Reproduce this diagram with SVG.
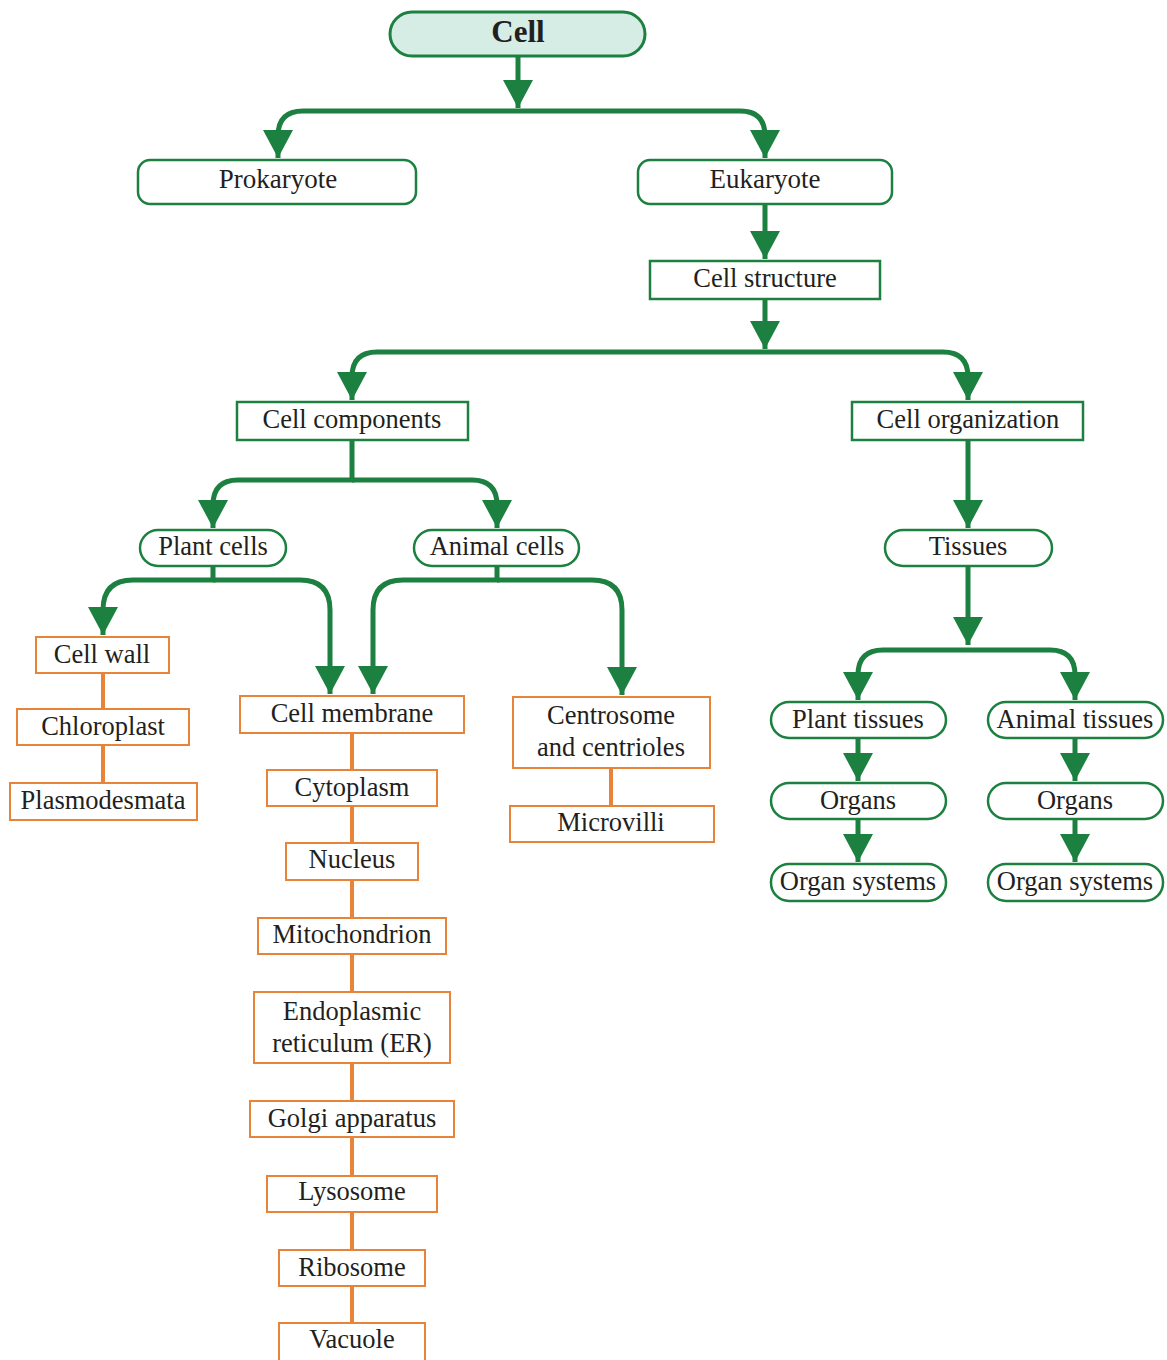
<svg xmlns="http://www.w3.org/2000/svg" width="1167" height="1360" viewBox="0 0 1167 1360">
<style>
.g{fill:#fff;stroke:#1c8040;stroke-width:2.5}
.o{fill:#fff;stroke:#e8843a;stroke-width:2}
.t{font-family:"Liberation Serif","Times New Roman",serif;font-size:26.5px;fill:#231f20;text-anchor:middle}
.c{fill:none;stroke:#1c8040;stroke-width:5}
.oc{fill:none;stroke:#e8843a;stroke-width:4}
</style>
<defs>
<marker id="ah" viewBox="0 0 28 30" markerWidth="28" markerHeight="30" markerUnits="userSpaceOnUse" refX="28" refY="15" orient="auto">
<path d="M0,0 L28,15 L0,30 Z" fill="#1c8040"/>
</marker>
</defs>
<rect width="1167" height="1360" fill="#fff"/>
<g id="connectors">
<path class="c" marker-end="url(#ah)" d="M518,56 V108"/>
<path class="c" marker-end="url(#ah)" d="M518,111 H303 Q278,111 278,136 V158"/>
<path class="c" marker-end="url(#ah)" d="M518,111 H740 Q765,111 765,136 V158"/>
<path class="c" marker-end="url(#ah)" d="M765,204 V259"/>
<path class="c" marker-end="url(#ah)" d="M765,299 V349"/>
<path class="c" marker-end="url(#ah)" d="M765,352 H377 Q352,352 352,377 V400"/>
<path class="c" marker-end="url(#ah)" d="M765,352 H943 Q968,352 968,377 V400"/>
<path class="c" marker-end="url(#ah)" d="M352,440 V480 H238 Q213,480 213,505 V528"/>
<path class="c" marker-end="url(#ah)" d="M352,480 H472 Q497,480 497,505 V528"/>
<path class="c" marker-end="url(#ah)" d="M968,440 V528"/>
<path class="c" marker-end="url(#ah)" d="M968,566 V645"/>
<path class="c" marker-end="url(#ah)" d="M968,650 H883 Q858,650 858,675 V700"/>
<path class="c" marker-end="url(#ah)" d="M968,650 H1050 Q1075,650 1075,675 V700"/>
<path class="c" marker-end="url(#ah)" d="M858,738 V781"/>
<path class="c" marker-end="url(#ah)" d="M858,819 V862"/>
<path class="c" marker-end="url(#ah)" d="M1075,738 V781"/>
<path class="c" marker-end="url(#ah)" d="M1075,819 V862"/>
<path class="c" marker-end="url(#ah)" d="M213,566 V580 H133 Q103,580 103,610 V635"/>
<path class="c" marker-end="url(#ah)" d="M213,580 H300 Q330,580 330,610 V694"/>
<path class="c" marker-end="url(#ah)" d="M497,566 V580 H403 Q373,580 373,610 V694"/>
<path class="c" marker-end="url(#ah)" d="M497,580 H592 Q622,580 622,610 V695"/>
<path class="oc" d="M103,673 V783"/>
<path class="oc" d="M352,733 V1323"/>
<path class="oc" d="M611,768 V806"/>
</g>
<g id="cell"><rect x="390" y="12" width="255" height="44" rx="22" fill="#d6ede5" stroke="#1c8040" stroke-width="3"/><text class="t" x="518" y="42" style="font-weight:bold;font-size:31px">Cell</text></g>
<g id="prokaryote"><rect class="g" x="138" y="160" width="278" height="44" rx="12"/><text class="t" x="278" y="188" style="font-size:27px">Prokaryote</text></g>
<g id="eukaryote"><rect class="g" x="638" y="160" width="254" height="44" rx="12"/><text class="t" x="765" y="188" style="font-size:27px">Eukaryote</text></g>
<g id="cell-structure"><rect class="g" x="650" y="261" width="230" height="38"/><text class="t" x="765" y="287">Cell structure</text></g>
<g id="cell-components"><rect class="g" x="237" y="402" width="231" height="38"/><text class="t" x="352" y="428">Cell components</text></g>
<g id="cell-organization"><rect class="g" x="852" y="402" width="231" height="38"/><text class="t" x="968" y="428">Cell organization</text></g>
<g id="plant-cells"><rect class="g" x="140" y="530" width="146" height="36" rx="18"/><text class="t" x="213" y="555">Plant cells</text></g>
<g id="animal-cells"><rect class="g" x="414" y="530" width="165" height="36" rx="18"/><text class="t" x="497" y="555">Animal cells</text></g>
<g id="tissues"><rect class="g" x="885" y="530" width="167" height="36" rx="18"/><text class="t" x="968" y="555">Tissues</text></g>
<g id="plant-tissues"><rect class="g" x="771" y="702" width="175" height="36" rx="18"/><text class="t" x="858" y="728">Plant tissues</text></g>
<g id="animal-tissues"><rect class="g" x="988" y="702" width="175" height="36" rx="18"/><text class="t" x="1075" y="728">Animal tissues</text></g>
<g id="organs-plant"><rect class="g" x="771" y="783" width="175" height="36" rx="18"/><text class="t" x="858" y="809">Organs</text></g>
<g id="organs-animal"><rect class="g" x="988" y="783" width="175" height="36" rx="18"/><text class="t" x="1075" y="809">Organs</text></g>
<g id="organ-systems-plant"><rect class="g" x="771" y="864" width="175" height="37" rx="18"/><text class="t" x="858" y="890">Organ systems</text></g>
<g id="organ-systems-animal"><rect class="g" x="988" y="864" width="175" height="37" rx="18"/><text class="t" x="1075" y="890">Organ systems</text></g>
<g id="cell-wall"><rect class="o" x="36" y="637" width="133" height="36"/><text class="t" x="102" y="663">Cell wall</text></g>
<g id="chloroplast"><rect class="o" x="17" y="709" width="172" height="36"/><text class="t" x="103" y="735">Chloroplast</text></g>
<g id="plasmodesmata"><rect class="o" x="10" y="783" width="187" height="37"/><text class="t" x="103" y="809">Plasmodesmata</text></g>
<g id="cell-membrane"><rect class="o" x="240" y="696" width="224" height="37"/><text class="t" x="352" y="722">Cell membrane</text></g>
<g id="cytoplasm"><rect class="o" x="267" y="770" width="170" height="36"/><text class="t" x="352" y="796">Cytoplasm</text></g>
<g id="nucleus"><rect class="o" x="286" y="843" width="132" height="37"/><text class="t" x="352" y="868">Nucleus</text></g>
<g id="mitochondrion"><rect class="o" x="258" y="918" width="188" height="36"/><text class="t" x="352" y="943">Mitochondrion</text></g>
<g id="er"><rect class="o" x="254" y="992" width="196" height="71"/><text class="t" x="352" y="1020">Endoplasmic</text><text class="t" x="352" y="1052">reticulum (ER)</text></g>
<g id="golgi"><rect class="o" x="250" y="1101" width="204" height="36"/><text class="t" x="352" y="1127">Golgi apparatus</text></g>
<g id="lysosome"><rect class="o" x="267" y="1176" width="170" height="36"/><text class="t" x="352" y="1200">Lysosome</text></g>
<g id="ribosome"><rect class="o" x="279" y="1250" width="146" height="36"/><text class="t" x="352" y="1276">Ribosome</text></g>
<g id="vacuole"><rect class="o" x="279" y="1323" width="146" height="40"/><text class="t" x="352" y="1348">Vacuole</text></g>
<g id="centrosome"><rect class="o" x="513" y="697" width="197" height="71"/><text class="t" x="611" y="724">Centrosome</text><text class="t" x="611" y="756">and centrioles</text></g>
<g id="microvilli"><rect class="o" x="510" y="806" width="204" height="36"/><text class="t" x="611" y="831">Microvilli</text></g>
</svg>
